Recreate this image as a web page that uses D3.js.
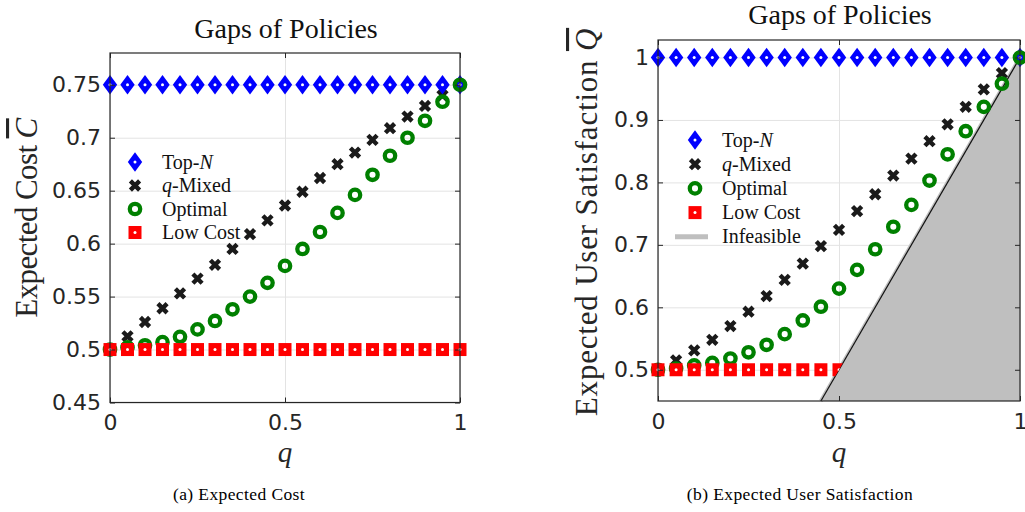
<!DOCTYPE html>
<html>
<head>
<meta charset="utf-8">
<script src="https://cdn.jsdelivr.net/npm/d3@7"></script>
<style>
  body { margin: 0; background: #fff; }
  svg { display: block; }
  .tick text { font-family: "DejaVu Sans", sans-serif; font-size: 22px; fill: #262626; }
  .serif { font-family: "Liberation Serif", serif; fill: #262626; }
</style>
</head>
<body>
<div id="chart"></div>
<script>
// q values shared by both panels
var qVals = [0, 0.05, 0.1, 0.15, 0.2, 0.25, 0.3, 0.35, 0.4, 0.45, 0.5,
  0.55, 0.6, 0.65, 0.7, 0.75, 0.8, 0.85, 0.9, 0.95, 1];

// (a) expected cost
var costTopN = [0.75, 0.75, 0.75, 0.75, 0.75, 0.75, 0.75, 0.75, 0.75, 0.75, 0.75,
  0.75, 0.75, 0.75, 0.75, 0.75, 0.75, 0.75, 0.75, 0.75, 0.75];
var costMixed = [0.5, 0.5125, 0.526, 0.539, 0.553, 0.567, 0.58, 0.595, 0.609, 0.622, 0.636,
  0.649, 0.662, 0.675, 0.686, 0.698, 0.709, 0.72, 0.73, 0.74, 0.75];
var costOptimal = [0.5, 0.502, 0.504, 0.507, 0.512, 0.519, 0.527, 0.538, 0.55, 0.563, 0.579,
  0.595, 0.611, 0.629, 0.646, 0.665, 0.683, 0.7, 0.716, 0.734, 0.75];
var costLow = [0.5, 0.5, 0.5, 0.5, 0.5, 0.5, 0.5, 0.5, 0.5, 0.5, 0.5,
  0.5, 0.5, 0.5, 0.5, 0.5, 0.5, 0.5, 0.5, 0.5, 0.5];
var costTicks = [0.45, 0.5, 0.55, 0.6, 0.65, 0.7, 0.75];

// (b) expected user satisfaction
var satTopN = [1, 1, 1, 1, 1, 1, 1, 1, 1, 1, 1,
  1, 1, 1, 1, 1, 1, 1, 1, 1, 1];
var satMixed = [0.5, 0.515, 0.531, 0.548, 0.57, 0.593, 0.618, 0.644, 0.67, 0.698, 0.724,
  0.754, 0.781, 0.811, 0.838, 0.866, 0.893, 0.921, 0.949, 0.975, 1];
var satOptimal = [0.5, 0.502, 0.507, 0.511, 0.518, 0.528, 0.54, 0.557, 0.579, 0.601, 0.63,
  0.66, 0.693, 0.729, 0.764, 0.803, 0.845, 0.882, 0.921, 0.958, 1];
var satLow = [0.5, 0.5, 0.5, 0.5, 0.5, 0.5, 0.5, 0.5, 0.5, 0.5, 0.5];
var infeasible = [[0.45, 0.45], [1, 1], [1, 0.45]];
var satTicks = [0.5, 0.6, 0.7, 0.8, 0.9, 1];

var qTicks = [0, 0.5, 1];
var legendNames = ["Top-", "q", "Optimal", "Low Cost", "Infeasible"];

var blue = "#0000ff", green = "#008000", red = "#ff0000", dark = "#1a1a1a", grey = "#bfbfbf";

var svg = d3.select("#chart").append("svg")
  .attr("width", 1025).attr("height", 512);

var diamondPath = "M0,-9.8L7.2,0L0,9.8L-7.2,0Z";
var crossPath = "M-4.6,-4.6L4.6,4.6M4.6,-4.6L-4.6,4.6";
var squarePath = "M-6.5,-6.5H6.5V6.5H-6.5Z";

function zipped(ys) {
  return ys.map(function (v, i) { return { q: qVals[i], v: v }; });
}

function drawMarkers(g, x, y, data, kind) {
  var sel = g.append("g").selectAll("g").data(data).enter().append("g")
    .attr("transform", function (d) { return "translate(" + x(d.q) + "," + y(d.v) + ")"; });
  addMarker(sel, kind);
  return sel;
}

function addMarker(sel, kind) {
  if (kind == "diamond") {
    sel.append("path").attr("d", diamondPath).attr("fill", blue);
    sel.append("circle").attr("r", 1.5).attr("fill", "#fff");
  } else if (kind == "cross") {
    sel.append("path").attr("d", crossPath).attr("stroke", dark)
      .attr("stroke-width", 4.4).attr("fill", "none");
  } else if (kind == "circle") {
    sel.append("circle").attr("r", 5.2).attr("fill", "none")
      .attr("stroke", green).attr("stroke-width", 4.3);
  } else if (kind == "square") {
    sel.append("path").attr("d", squarePath).attr("fill", red);
    sel.append("circle").attr("r", 1.5).attr("fill", "#fff");
  }
}

function panel(opt) {
  var x = d3.scaleLinear().domain([0, 1]).range([opt.left, opt.right]);
  var y = d3.scaleLinear().domain(opt.ydomain).range([opt.bottom, opt.top]);
  var w = opt.right - opt.left, h = opt.bottom - opt.top;
  var g = svg.append("g");

  // grid
  g.append("g").attr("transform", "translate(" + opt.left + ",0)")
    .call(d3.axisLeft(y).tickValues(opt.yticks).tickSize(-w).tickFormat(""))
    .call(function (s) { s.select(".domain").remove(); s.selectAll("line").attr("stroke", "#e3e3e3"); });
  g.append("g").attr("transform", "translate(0," + opt.bottom + ")")
    .call(d3.axisBottom(x).tickValues(qTicks).tickSize(-h).tickFormat(""))
    .call(function (s) { s.select(".domain").remove(); s.selectAll("line").attr("stroke", "#e3e3e3"); });

  // infeasible region
  if (opt.patch) {
    var p = opt.patch;
    g.append("path")
      .attr("d", d3.line().x(function (d) { return x(d[0]); }).y(function (d) { return y(d[1]); })(p) + "Z")
      .attr("fill", grey);
    g.append("line")
      .attr("x1", x(p[0][0])).attr("y1", y(p[0][1]))
      .attr("x2", x(p[1][0])).attr("y2", y(p[1][1]))
      .attr("stroke", grey).attr("stroke-width", 4);
    g.append("line")
      .attr("x1", x(p[0][0])).attr("y1", y(p[0][1]))
      .attr("x2", x(p[1][0])).attr("y2", y(p[1][1]))
      .attr("stroke", "#111").attr("stroke-width", 1.2);
    // squares are hidden where they fall inside the infeasible region
    var t0 = p[0][0] - 0.03, t1 = 1.05;
    svg.append("clipPath").attr("id", "feasible").append("polygon")
      .attr("points", [
        [opt.left - 30, opt.top - 30], [opt.right + 30, opt.top - 30],
        [x(t1), y(t1)], [x(t0), y(t0)], [opt.left - 30, y(t0)]
      ].map(function (d) { return d.join(","); }).join(" "));
  }

  drawMarkers(g, x, y, zipped(opt.mixed), "cross");
  drawMarkers(g, x, y, zipped(opt.topn), "diamond");
  drawMarkers(g, x, y, zipped(opt.optimal), "circle");
  var sq = drawMarkers(g, x, y, zipped(opt.low), "square");
  if (opt.patch) d3.select(sq.node().parentNode).attr("clip-path", "url(#feasible)");

  // axes with inward ticks
  g.append("g").attr("transform", "translate(" + opt.left + ",0)")
    .call(d3.axisLeft(y).tickValues(opt.yticks).tickSize(-5).tickPadding(9)
      .tickFormat(function (d) { return d3.format("")(+d.toFixed(2)); }))
    .call(function (s) { s.select(".domain").remove(); s.selectAll("line").attr("stroke", "#262626"); });
  g.append("g").attr("transform", "translate(" + opt.right + ",0)")
    .call(d3.axisRight(y).tickValues(opt.yticks).tickSize(-5).tickFormat(""))
    .call(function (s) { s.select(".domain").remove(); s.selectAll("line").attr("stroke", "#262626"); });
  g.append("g").attr("transform", "translate(0," + opt.bottom + ")")
    .call(d3.axisBottom(x).tickValues(qTicks).tickSize(-5).tickPadding(12)
      .tickFormat(d3.format("")))
    .call(function (s) { s.select(".domain").remove(); s.selectAll("line").attr("stroke", "#262626"); });
  g.append("g").attr("transform", "translate(0," + opt.top + ")")
    .call(d3.axisTop(x).tickValues(qTicks).tickSize(-5).tickFormat(""))
    .call(function (s) { s.select(".domain").remove(); s.selectAll("line").attr("stroke", "#262626"); });
  g.append("rect").attr("x", opt.left).attr("y", opt.top).attr("width", w).attr("height", h)
    .attr("fill", "none").attr("stroke", "#262626").attr("stroke-width", 1.2);

  // title
  g.append("text").attr("class", "serif").attr("x", (opt.left + opt.right) / 2 + 1).attr("y", opt.titleY)
    .attr("text-anchor", "middle").style("font-size", "28px").style("fill", "#111").text("Gaps of Policies");

  // x label
  g.append("text").attr("class", "serif").attr("x", (opt.left + opt.right) / 2).attr("y", 462)
    .attr("text-anchor", "middle").style("font-size", "29px").style("font-style", "italic").text("q");

  // y label
  var yl = g.append("text").attr("class", "serif")
    .attr("transform", "translate(" + opt.ylabelX + "," + opt.ylabelY + ") rotate(-90)")
    .attr("text-anchor", "middle").style("font-size", "31px")
    .style("letter-spacing", opt.ylabelSpacing + "px");
  yl.append("tspan").text(opt.ylabel + " ");
  yl.append("tspan").style("font-style", "italic").style("text-decoration", "overline").text(opt.ysym);

  // caption
  g.append("text").attr("class", "serif").attr("x", opt.captionX).attr("y", 500)
    .attr("text-anchor", "middle").style("font-size", "17.5px").style("letter-spacing", "0.4px")
    .style("fill", "#000").text(opt.caption);

  // legend
  var kinds = ["diamond", "cross", "circle", "square"];
  if (opt.patch) kinds.push("line");
  kinds.forEach(function (k, i) {
    var cy = opt.legY + i * opt.legStep;
    var m = g.append("g").attr("transform", "translate(" + opt.legX + "," + cy + ")");
    if (k == "line") {
      m.append("line").attr("x1", -20).attr("x2", 13).attr("stroke", grey).attr("stroke-width", 5);
    } else {
      addMarker(m, k);
    }
    var t = g.append("text").attr("class", "serif").attr("x", opt.legX + 27).attr("y", cy + 6.5)
      .style("font-size", "20px").style("fill", "#111");
    if (i == 0) {
      t.append("tspan").text(legendNames[0]);
      t.append("tspan").style("font-style", "italic").text("N");
    } else if (i == 1) {
      t.append("tspan").style("font-style", "italic").text(legendNames[1]);
      t.append("tspan").text("-Mixed");
    } else {
      t.text(legendNames[i]);
    }
  });
}

panel({
  left: 110, right: 460, top: 53, bottom: 402.5,
  ydomain: [0.45, 0.78], yticks: costTicks,
  topn: costTopN, mixed: costMixed, optimal: costOptimal, low: costLow,
  titleY: 38, ylabel: "Expected Cost", ysym: "C", ylabelSpacing: -0.6,
  ylabelX: 37, ylabelY: 218, caption: "(a)  Expected Cost", captionX: 239,
  legX: 135, legY: 162, legStep: 23.5
});

panel({
  left: 658, right: 1020, top: 40, bottom: 401,
  ydomain: [0.45, 1.028], yticks: satTicks,
  topn: satTopN, mixed: satMixed, optimal: satOptimal,
  low: satLow, patch: infeasible,
  titleY: 24, ylabel: "Expected User Satisfaction", ysym: "Q", ylabelSpacing: 0.8,
  ylabelX: 597, ylabelY: 222, caption: "(b)  Expected User Satisfaction", captionX: 800,
  legX: 695, legY: 140, legStep: 24.2
});
</script>
</body>
</html>
